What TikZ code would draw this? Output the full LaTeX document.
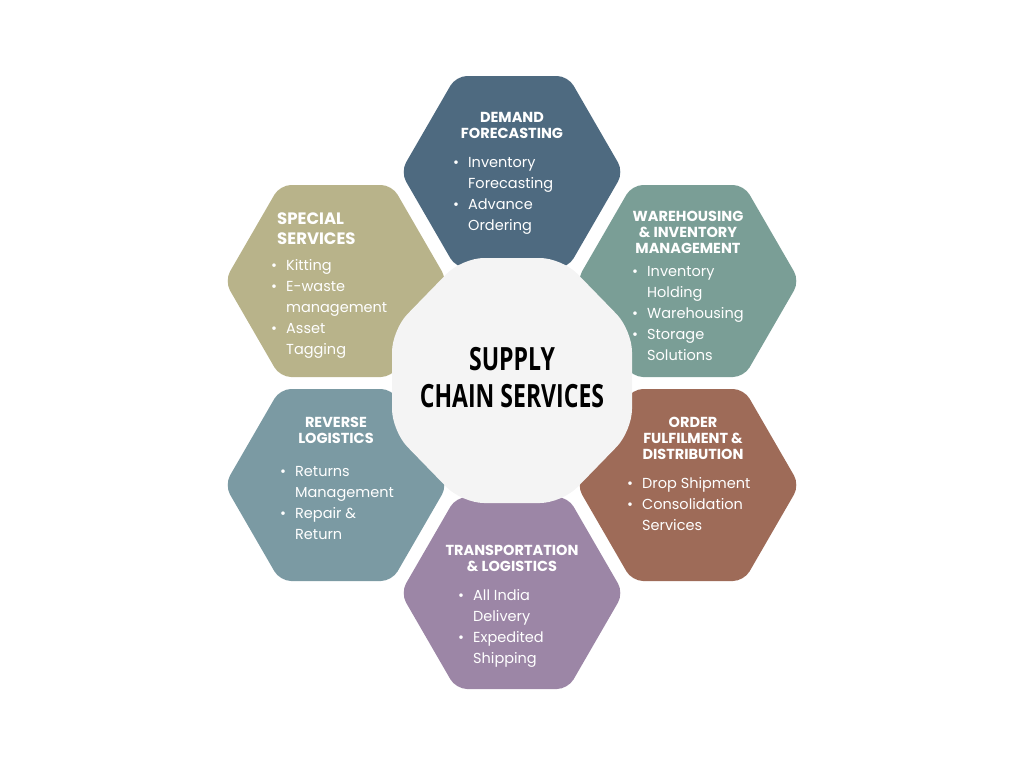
\documentclass[tikz,border=0pt]{standalone}
\usepackage{fontspec}
\setmainfont{Poppins}
\newfontfamily\ctrfont{Open Sans}
\definecolor{cDem}{HTML}{4E6A80}
\definecolor{cWar}{HTML}{7A9E96}
\definecolor{cOrd}{HTML}{9E6B58}
\definecolor{cTra}{HTML}{9C86A6}
\definecolor{cRev}{HTML}{7B9AA3}
\definecolor{cSpe}{HTML}{B8B38A}
\definecolor{cCtr}{HTML}{F4F4F4}
\newcommand{\hexat}[3]{\fill[#3,rounded corners=11pt] (#1-111.5,#2) -- (#1-56,#2-96) -- (#1+56,#2-96) -- (#1+111.5,#2) -- (#1+56,#2+96) -- (#1-56,#2+96) -- cycle;}
\tikzset{ttl/.style={text=white,font=\fontsize{14.5}{16}\selectfont\bfseries,align=center,inner sep=0pt},
 lst/.style={text=white,font=\fontsize{14.5}{21}\selectfont,align=left,inner sep=0pt,anchor=north west}}
\newcommand{\itm}[1]{\textbullet&#1\\}
\newcommand{\cnt}[1]{&#1\\}
\newenvironment{blist}{\begin{tabular}{@{}l@{\hspace{9pt}}l@{}}}{\end{tabular}}
\begin{document}
\begin{tikzpicture}[x=1pt,y=-1pt]
\useasboundingbox (0,0) rectangle (1024,768);
\hexat{512}{172}{cDem}
\hexat{688}{281}{cWar}
\hexat{688}{485}{cOrd}
\hexat{512}{593}{cTra}
\hexat{336}{485}{cRev}
\hexat{336}{281}{cSpe}
\fill[cCtr,rounded corners=22pt] (462,258) -- (562,258) -- (632,330) -- (632,431) -- (562,503) -- (462,503) -- (392,431) -- (392,330) -- cycle;
\node[font=\ctrfont\fontsize{32}{37}\selectfont\bfseries,align=center,xscale=0.72] (ctr) at (512,378) {SUPPLY\\CHAIN SERVICES};
% Demand
\node[ttl] (t1) at (512,125) {DEMAND\\FORECASTING};
\node[lst] (l1) at (453,153) {\begin{blist}\itm{Inventory}\cnt{Forecasting}\itm{Advance}\cnt{Ordering}\end{blist}};
% Warehousing
\node[ttl] (t2) at (688,232) {WAREHOUSING\\\& INVENTORY\\MANAGEMENT};
\node[lst] (l2) at (632,262) {\begin{blist}\itm{Inventory}\cnt{Holding}\itm{Warehousing}\itm{Storage}\cnt{Solutions}\end{blist}};
% Order
\node[ttl] (t3) at (693,438) {ORDER\\FULFILMENT \&\\DISTRIBUTION};
\node[lst] (l3) at (627,474) {\begin{blist}\itm{Drop Shipment}\itm{Consolidation}\cnt{Services}\end{blist}};
% Transport
\node[ttl] (t4) at (512,558) {TRANSPORTATION\\\& LOGISTICS};
\node[lst] (l4) at (458,586) {\begin{blist}\itm{All India}\cnt{Delivery}\itm{Expedited}\cnt{Shipping}\end{blist}};
% Reverse
\node[ttl] (t5) at (336,430) {REVERSE\\LOGISTICS};
\node[lst] (l5) at (280,462) {\begin{blist}\itm{Returns}\cnt{Management}\itm{Repair \&}\cnt{Return}\end{blist}};
% Special
\node[ttl,font=\fontsize{16.5}{20}\selectfont\bfseries,align=left,anchor=west] (t6) at (277,229) {SPECIAL\\SERVICES};
\node[lst] (l6) at (271,256) {\begin{blist}\itm{Kitting}\itm{E-waste}\cnt{management}\itm{Asset}\cnt{Tagging}\end{blist}};
\end{tikzpicture}
\end{document}
